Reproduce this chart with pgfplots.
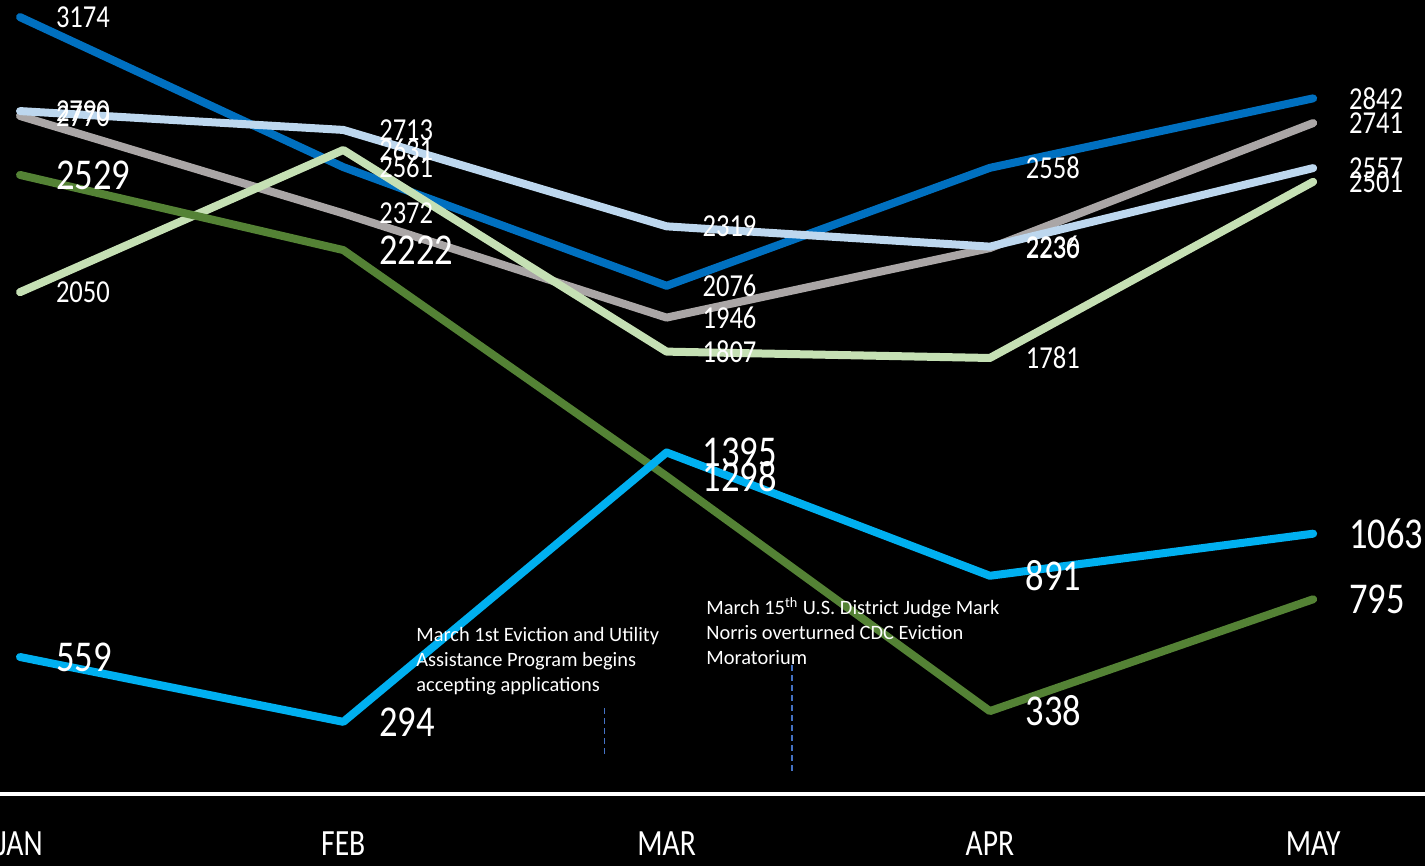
\documentclass[border=0pt]{standalone}
\usepackage{fontspec}
\setmainfont{Carlito}
\usepackage{pgfplots}
\pgfplotsset{compat=1.18}
\definecolor{dblue}{RGB}{0,112,192}
\definecolor{lblue}{RGB}{189,215,238}
\definecolor{lgray}{RGB}{170,166,166}
\definecolor{lgreen}{RGB}{197,224,180}
\definecolor{dgreen}{RGB}{84,130,53}
\definecolor{cyanb}{RGB}{0,176,240}
\definecolor{annot}{RGB}{68,114,196}
\newcommand{\narrow}[1]{\scalebox{0.8}[1]{#1}}

\begin{document}
\begin{tikzpicture}
\path[use as bounding box] (0,0) rectangle (712.5pt,433pt);
\fill[black] (0,0) rectangle (712.5pt,433pt);
\begin{scope}
\clip (0,0) rectangle (712.5pt,433pt);
\begin{axis}[
    at={(0,0)}, anchor=south west,
    scale only axis, width=712.5pt, height=433pt,
    xmin=-0.0619, xmax=4.346, ymin=-295, ymax=3244,
    axis x line=middle, axis y line=none,
    axis line style={-, white, line width=2pt},
    xtick={0,1,2,3,4},
    xticklabels={\narrow{JAN},\narrow{FEB},\narrow{MAR},\narrow{APR},\narrow{MAY}},
    xtick style={draw=none},
    xticklabel style={anchor=center, yshift=-23pt, text=white,
        font=\fontsize{18.5}{18.5}\selectfont},
    ytick=\empty,
    clip=false,
    /pgf/number format/assume math mode=true,
    /pgf/number format/1000 sep={},
    nodes near coords={\scalebox{0.83}[1]{\pgfmathprintnumber{\pgfplotspointmeta}}},
    every node near coord/.style={anchor=west, xshift=16pt, inner sep=0pt, text=white,
        font=\fontsize{16}{16}\selectfont},
    every axis plot/.append style={line width=4pt, line cap=round, line join=round, mark=none},
]
% gray
\addplot[lgray] coordinates {(0,2770) (1,2372) (2,1946) (3,2230) (4,2741)};
% dark blue
\addplot[dblue] coordinates {(0,3174) (1,2561) (2,2076) (3,2558) (4,2842)};
% light blue
\addplot[lblue] coordinates {(0,2790) (1,2713) (2,2319) (3,2236) (4,2557)};
% light green
\addplot[lgreen] coordinates {(0,2050) (1,2631) (2,1807) (3,1781) (4,2501)};
% dark green
\addplot[dgreen, every node near coord/.append style={font=\fontsize{22}{22}\selectfont}]
    coordinates {(0,2529) (1,2222) (2,1298) (3,338) (4,795)};
% cyan
\addplot[cyanb, every node near coord/.append style={font=\fontsize{22}{22}\selectfont}]
    coordinates {(0,559) (1,294) (2,1395) (3,891) (4,1063)};

\node[anchor=north west, inner sep=0pt, text=white, align=left,
      font=\fontsize{10.2}{12.5}\selectfont] at (axis cs:1.225,682)
      {March 1st Eviction and Utility\\Assistance Program begins\\accepting applications};
\node[anchor=north west, inner sep=0pt, text=white, align=left,
      font=\fontsize{10.2}{12.5}\selectfont] at (axis cs:2.122,804)
      {March 15\textsuperscript{th} U.S. District Judge Mark\\Norris overturned CDC Eviction\\Moratorium};
\draw[annot, line width=0.6pt, dash pattern=on 3pt off 2pt] (axis cs:1.807,350) -- (axis cs:1.807,150);
\draw[annot, line width=0.6pt, dash pattern=on 3pt off 2pt] (axis cs:2.388,526) -- (axis cs:2.388,77);
\end{axis}
\end{scope}
\end{tikzpicture}
\end{document}
